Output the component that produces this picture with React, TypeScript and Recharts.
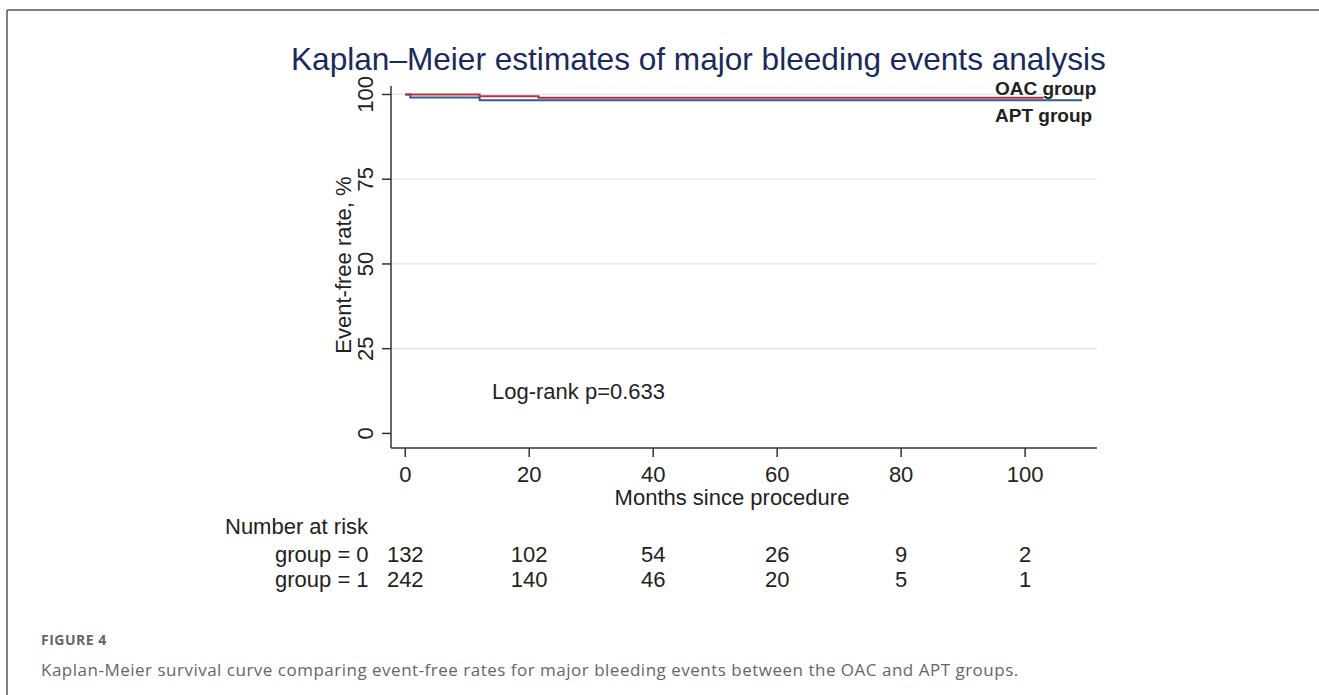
import React from 'react'
import { ComposedChart, Line, XAxis, YAxis, ReferenceLine } from 'recharts'

// Kaplan-Meier steps (months, event-free %)
const oacTimes = [0, 12, 21.5, 103]
const oacRates = [100, 99.5, 99.0, 99.0]
const aptTimes = [0, 0.8, 12, 109.2]
const aptRates = [100, 99.1, 98.3, 98.3]

const xTicks = [0, 20, 40, 60, 80, 100]
const yTicks = [0, 25, 50, 75, 100]
const gridLevels = [25, 50, 75, 100]

// number at risk table
const atRisk0 = [132, 102, 54, 26, 9, 2]
const atRisk1 = [242, 140, 46, 20, 5, 1]

const oacData = oacTimes.map((t, i) => ({ t, rate: oacRates[i] }))
const aptData = aptTimes.map((t, i) => ({ t, rate: aptRates[i] }))

const FONT = '"Liberation Sans", Arial, sans-serif'
const AXIS = '#333'
const FS = 22

function XTick(props: any) {
  const { x, y, payload } = props
  const i = xTicks.indexOf(payload.value)
  const common = { x, textAnchor: 'middle' as const, fontFamily: FONT, fontSize: FS, fill: '#222' }
  return (
    <g>
      <text {...common} y={y + 23}>{payload.value}</text>
      <text {...common} y={y + 103}>{atRisk0[i]}</text>
      <text {...common} y={y + 128}>{atRisk1[i]}</text>
    </g>
  )
}

function YTick(props: any) {
  const { x, y, payload } = props
  const bx = x - 7
  return (
    <text x={bx} y={y} transform={`rotate(-90, ${bx}, ${y})`} textAnchor="middle"
      fontFamily={FONT} fontSize={FS} fill="#222">
      {payload.value}
    </text>
  )
}

export default function App() {
  return (
    <div style={{ position: 'absolute', left: 0, top: 0, width: 1319, height: 695, background: '#fff' }}>
      <div style={{ position: 'absolute', left: 0, top: 0 }}>
        <ComposedChart width={1319} height={695} margin={{ top: 86, right: 222, left: 331, bottom: 217 }}>
          <XAxis type="number" dataKey="t" domain={[-2.3, 111.6]} ticks={xTicks} allowDataOverflow
            tickSize={9} tickMargin={2} height={30} interval={0}
            axisLine={{ stroke: AXIS, strokeWidth: 1.5 }} tickLine={{ stroke: AXIS, strokeWidth: 1.5 }}
            tick={<XTick />} />
          <YAxis type="number" domain={[-4.3, 102.5]} ticks={yTicks} allowDataOverflow width={60}
            tickSize={9} tickMargin={2} interval={0}
            axisLine={{ stroke: AXIS, strokeWidth: 1.5 }} tickLine={{ stroke: AXIS, strokeWidth: 1.5 }}
            tick={<YTick />} />
          {gridLevels.map((g) => (
            <ReferenceLine key={g} y={g} stroke="#dbe8ee" strokeWidth={1.2} />
          ))}
          <Line data={aptData} dataKey="rate" type="stepAfter" stroke="#2f5b8e" strokeWidth={2}
            dot={false} isAnimationActive={false} />
          <Line data={oacData} dataKey="rate" type="stepAfter" stroke="#b8303d" strokeWidth={2}
            dot={false} isAnimationActive={false} />
        </ComposedChart>
      </div>
      <svg width={1319} height={695} style={{ position: 'absolute', left: 0, top: 0, pointerEvents: 'none' }}>
        <line x1={7} y1={10} x2={1319} y2={10} stroke="#555" strokeWidth={1.5} />
        <line x1={7} y1={10} x2={7} y2={695} stroke="#555" strokeWidth={1.5} />
        <text x={291} y={70} fontFamily={FONT} fontSize={31.6} fill="#1b2a5c">
          Kaplan–Meier estimates of major bleeding events analysis
        </text>
        <text x={995} y={95} fontFamily={FONT} fontSize={19} fontWeight="bold" fill="#222">OAC group</text>
        <text x={995} y={122} fontFamily={FONT} fontSize={19} fontWeight="bold" fill="#222">APT group</text>
        <text x={351} y={265} transform="rotate(-90, 351, 265)" textAnchor="middle"
          fontFamily={FONT} fontSize={FS} fill="#222">Event-free rate, %</text>
        <text x={492} y={399} fontFamily={FONT} fontSize={FS} fill="#222">Log-rank p=0.633</text>
        <text x={732} y={505} textAnchor="middle" fontFamily={FONT} fontSize={FS} fill="#222">Months since procedure</text>
        <text x={225} y={534} fontFamily={FONT} fontSize={FS} fill="#222">Number at risk</text>
        <text x={275} y={562} fontFamily={FONT} fontSize={FS} fill="#222">group = 0</text>
        <text x={275} y={587} fontFamily={FONT} fontSize={FS} fill="#222">group = 1</text>
        <text x={41} y={645} fontFamily='"Open Sans", sans-serif' fontSize={14} fontWeight="bold"
          letterSpacing={0.5} fill="#666">FIGURE 4</text>
        <text x={41} y={676} fontFamily='"Open Sans", sans-serif' fontSize={17} letterSpacing={0.5} fill="#666">
          Kaplan-Meier survival curve comparing event-free rates for major bleeding events between the OAC and APT groups.
        </text>
      </svg>
    </div>
  )
}
